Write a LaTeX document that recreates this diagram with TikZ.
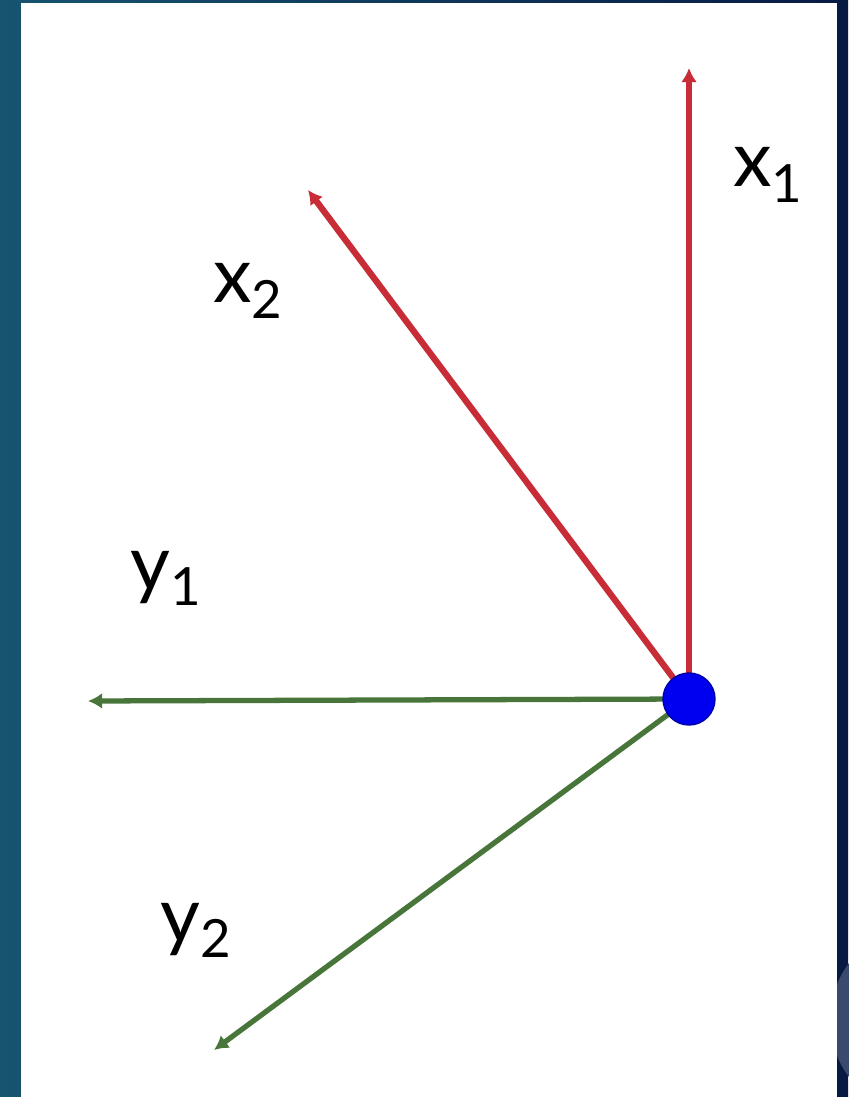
\documentclass[tikz,border=0pt]{standalone}
\usepackage{fontspec}
\setmainfont{Lato}
\usetikzlibrary{arrows.meta}
\definecolor{vecred}{RGB}{200,45,55}
\definecolor{vecgreen}{RGB}{72,118,58}
\definecolor{dotblue}{RGB}{0,0,240}
\definecolor{bgteal}{RGB}{22,84,112}
\definecolor{bgnavy}{RGB}{8,26,66}
\definecolor{bgarc}{RGB}{58,74,110}
\newcommand{\vsub}[1]{\raisebox{-0.2em}{\fontsize{30}{30}\selectfont #1}}

\begin{document}
\begin{tikzpicture}[x=0.02cm,y=-0.02cm,
    redvec/.style={vecred, line width=3.6pt, -{Latex[length=8pt,width=9pt]}},
    greenvec/.style={vecgreen, line width=3pt, -{Latex[length=8pt,width=9pt]}},
    lbl/.style={anchor=base west, inner sep=0pt, font=\fontsize{44}{50}\selectfont}]
        % background and white panel
        \useasboundingbox (0,0) rectangle (848,1097);
        \shade[left color=bgteal, right color=bgnavy] (0,0) rectangle (848,1097);
        \fill[bgarc] (925,1020) circle[radius=95];
        \fill[white] (21,3) rectangle (837,1097);
        % vectors from the common origin
        \coordinate (o) at (689,699);
        \coordinate (x1tip) at (689,68);
        \coordinate (x2tip) at (308,190);
        \coordinate (y1tip) at (88,701);
        \coordinate (y2tip) at (214,1050);
        \draw[redvec] (o) -- (x1tip);
        \draw[redvec] (o) -- (x2tip);
        \draw[greenvec] (o) -- (y1tip);
        \draw[greenvec] (o) -- (y2tip);
        \node[circle, fill=dotblue, draw=dotblue!70!black, line width=0.8pt,
              minimum size=1.04cm, inner sep=0pt] (origin) at (o) {};
        % labels
        \node[lbl] (labx1) at (733,187) {x\vsub{1}};
        \node[lbl] (labx2) at (213,303) {x\vsub{2}};
        \node[lbl] (laby1) at (130,590) {y\vsub{1}};
        \node[lbl] (laby2) at (160,942) {y\vsub{2}};
      \end{tikzpicture}
\end{document}
